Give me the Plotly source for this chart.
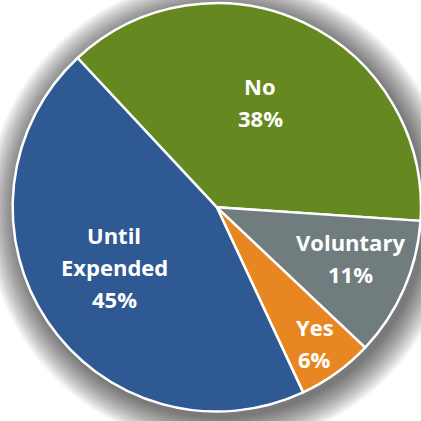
import math
import plotly.graph_objects as go

# Survey answers and their shares (percent)
labels = ["No", "Voluntary", "Yes", "Until Expended"]
label_lines = [["No"], ["Voluntary"], ["Yes"], ["Until", "Expended"]]
shares = [38, 11, 6, 45]
colors = ["#658820", "#717c7f", "#e88722", "#2e5993"]

# label placement: fraction of the radius and angular nudge (degrees)
label_radius = [0.56, 0.70, 0.82, 0.58]
label_turn = [-3, -3, 0, 4]

W = H = 421
dom_x = [0.03, 1.0]
dom_y = [0.015, 1.0]
rotation = -43

fig = go.Figure(
    go.Pie(
        labels=labels,
        values=shares,
        textinfo="none",
        hoverinfo="label+percent",
        marker=dict(colors=colors, line=dict(color="white", width=2.5)),
        sort=False,
        direction="clockwise",
        rotation=rotation,
        domain=dict(x=dom_x, y=dom_y),
        showlegend=False,
    )
)

cx = (dom_x[0] + dom_x[1]) / 2
cy = (dom_y[0] + dom_y[1]) / 2
r_px = min((dom_x[1] - dom_x[0]) * W, (dom_y[1] - dom_y[0]) * H) / 2

# soft drop shadow behind the pie: stacked translucent discs
off_x, off_y = 4 / W, -5 / H
shapes = []
for k in range(28, 0, -1):
    rr = (r_px + k * 1.1) / W
    shapes.append(dict(
        type="circle", xref="paper", yref="paper", layer="below",
        x0=cx + off_x - rr, x1=cx + off_x + rr,
        y0=cy + off_y - rr, y1=cy + off_y + rr,
        fillcolor="rgba(0,0,0,0.022)", line=dict(width=0),
    ))

# labels placed along each slice's middle angle
total = sum(shares)
annotations = []
start = rotation
line_pitch = 32
for lines, v, f, turn in zip(label_lines, shares, label_radius, label_turn):
    sweep = 360 * v / total
    mid = math.radians(start + sweep / 2 + turn)
    start += sweep
    px = cx * W + f * r_px * math.sin(mid)
    py = cy * H + f * r_px * math.cos(mid)
    rows = lines + [f"{round(100 * v / total)}%"]
    n = len(rows)
    for i, row in enumerate(rows):
        dy = ((n - 1) / 2 - i) * line_pitch
        annotations.append(dict(
            x=px / W, y=(py + dy) / H, xref="paper", yref="paper",
            text=row, showarrow=False, xanchor="center", yanchor="middle",
            font=dict(family="Open Sans", size=22, color="white", weight="bold"),
        ))

fig.update_layout(
    width=W, height=H,
    margin=dict(l=0, r=0, t=0, b=0),
    paper_bgcolor="white",
    plot_bgcolor="white",
    shapes=shapes,
    annotations=annotations,
)

fig.write_html("out.html")
